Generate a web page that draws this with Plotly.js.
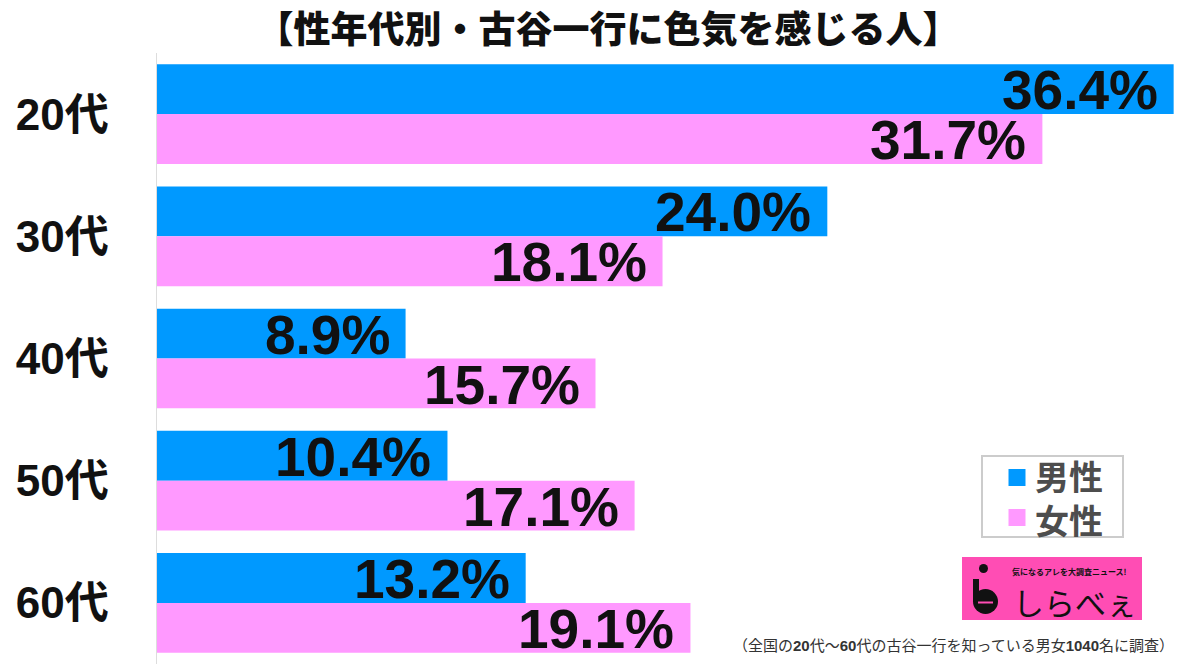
<!DOCTYPE html>
<html>
<head>
<meta charset="utf-8">
<script src="https://cdn.plot.ly/plotly-3.0.1.min.js"></script>
<style>html,body{margin:0;padding:0;background:#fff;}#chart{width:1195px;height:664px;}</style>
</head>
<body>
<div id="chart"></div>
<script>
// ---- data ----
const categories = ["20代", "30代", "40代", "50代", "60代"];
const maleValues = [36.4, 24.0, 8.9, 10.4, 13.2];
const femaleValues = [31.7, 18.1, 15.7, 17.1, 19.1];
const seriesNames = ["男性", "女性"];
const titleText = "【性年代別・古谷一行に色気を感じる人】";
const noteText = "（全国の<b>20</b>代～<b>60</b>代の古谷一行を知っている男女<b>1040</b>名に調査）";

// ---- layout helpers (pixel -> paper) ----
const W = 1195, H = 664, ML = 157, MR = 0, MT = 53, MB = 0;
const PW = W - ML - MR, PH = H - MT - MB;
const px = x => (x - ML) / PW;
const py = y => (H - MB - y) / PH;

const maleColor = "#0099ff", femaleColor = "#ff99ff";
const numFont = "Liberation Sans, Arial, Noto Sans CJK JP, sans-serif";
const jpFont = "Noto Sans CJK JP, sans-serif";

const traces = [
  {type: "bar", orientation: "h", name: seriesNames[0], y: categories, x: maleValues,
   marker: {color: maleColor}, hoverinfo: "none", showlegend: false},
  {type: "bar", orientation: "h", name: seriesNames[1], y: categories, x: femaleValues,
   marker: {color: femaleColor}, hoverinfo: "none", showlegend: false}
];

const annotations = [];
const valueFont = {family: numFont, size: 55, color: "#111111", weight: "bold"};
categories.forEach((c, i) => {
  annotations.push({x: maleValues[i], y: c, xref: "x", yref: "y", text: maleValues[i].toFixed(1) + "%",
    showarrow: false, xanchor: "right", yanchor: "middle", xshift: -14, yshift: 24, font: valueFont});
  annotations.push({x: femaleValues[i], y: c, xref: "x", yref: "y", text: femaleValues[i].toFixed(1) + "%",
    showarrow: false, xanchor: "right", yanchor: "middle", xshift: -14, yshift: -26, font: valueFont});
});

// legend (custom, one text block)
annotations.push({xref: "paper", yref: "paper", x: px(1033), y: py(497), text: seriesNames.join("<br>"),
  showarrow: false, xanchor: "left", yanchor: "middle", align: "left",
  font: {family: jpFont, size: 34, color: "#4d4d4d", weight: "bold"}});

// logo texts
annotations.push({xref: "paper", yref: "paper", x: px(1011), y: py(601), text: "しらべぇ",
  showarrow: false, xanchor: "left", yanchor: "middle",
  font: {family: jpFont, size: 31, color: "#111111"}});
annotations.push({xref: "paper", yref: "paper", x: px(1069), y: py(571), text: "気になるアレを大調査ニュース!",
  showarrow: false, xanchor: "center", yanchor: "middle",
  font: {family: jpFont, size: 8, color: "#111111", weight: "bold"}});

// footnote
annotations.push({xref: "paper", yref: "paper", x: px(1176), y: py(645), text: noteText,
  showarrow: false, xanchor: "right", yanchor: "middle",
  font: {family: "Liberation Sans, Noto Sans CJK JP, sans-serif", size: 15, color: "#333333"}});

const shapes = [
  // legend box
  {type: "rect", xref: "paper", yref: "paper", x0: px(982), x1: px(1123), y0: py(537), y1: py(456),
   line: {color: "#cccccc", width: 2}, fillcolor: "#ffffff", layer: "above"},
  {type: "rect", xref: "paper", yref: "paper", x0: px(1008.5), x1: px(1025.5), y0: py(486), y1: py(469),
   line: {width: 0}, fillcolor: maleColor, layer: "above"},
  {type: "rect", xref: "paper", yref: "paper", x0: px(1008.5), x1: px(1025.5), y0: py(526), y1: py(509),
   line: {width: 0}, fillcolor: femaleColor, layer: "above"},
  // logo
  {type: "rect", xref: "paper", yref: "paper", x0: px(962), x1: px(1142), y0: py(620), y1: py(557),
   line: {width: 0}, fillcolor: "#ff4db4", layer: "above"},
  {type: "circle", xref: "paper", yref: "paper", x0: px(973), x1: px(998), y0: py(614), y1: py(589),
   line: {width: 0}, fillcolor: "#111111", layer: "above"},
  {type: "rect", xref: "paper", yref: "paper", x0: px(973), x1: px(979), y0: py(602), y1: py(579),
   line: {width: 0}, fillcolor: "#111111", layer: "above"},
  {type: "circle", xref: "paper", yref: "paper", x0: px(979), x1: px(988), y0: py(573), y1: py(564),
   line: {width: 0}, fillcolor: "#111111", layer: "above"},
  {type: "rect", xref: "paper", yref: "paper", x0: px(978), x1: px(993), y0: py(603.5), y1: py(601.5),
   line: {width: 0}, fillcolor: "#ff4db4", layer: "above"}
];

const layout = {
  width: W, height: H,
  margin: {l: ML, r: MR, t: MT, b: MB, pad: 0},
  paper_bgcolor: "#ffffff", plot_bgcolor: "#ffffff",
  barmode: "group", bargap: 0.184, bargroupgap: 0,
  title: {text: titleText, x: 608 / W, xanchor: "center", xref: "container",
          y: 1 - 30 / H, yanchor: "middle", yref: "container",
          font: {family: jpFont, size: 37, color: "#111111", weight: 900}},
  xaxis: {range: [0, PW / 27.93], showgrid: false, zeroline: false, showticklabels: false,
          showline: false, ticks: "", fixedrange: true},
  yaxis: {type: "category", autorange: "reversed", showgrid: false, zeroline: false,
          showline: true, linecolor: "#dddddd", linewidth: 1.5, ticks: "",
          ticklabelstandoff: 38,
          tickfont: {family: numFont, size: 44, color: "#111111", weight: "bold"}, fixedrange: true},
  showlegend: false,
  annotations: annotations,
  shapes: shapes
};

Plotly.newPlot("chart", traces, layout, {displayModeBar: false, staticPlot: true});
</script>
</body>
</html>
